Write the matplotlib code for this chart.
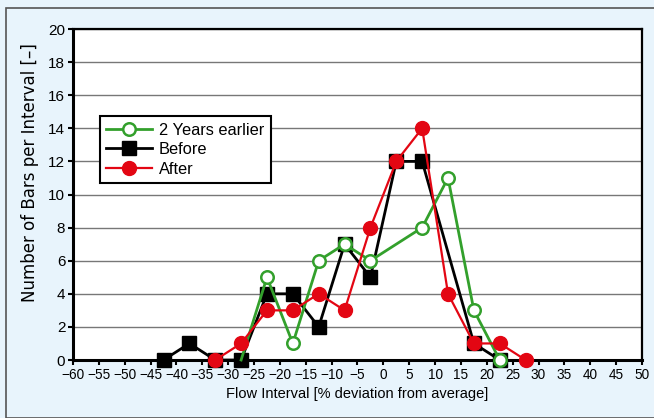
import matplotlib.pyplot as plt
from matplotlib.patches import Rectangle

# interval midpoints [% deviation]
x_earlier = [-27.5, -22.5, -17.5, -12.5, -7.5, -2.5, 7.5, 12.5, 17.5, 22.5]
y_earlier = [0, 5, 1, 6, 7, 6, 8, 11, 3, 0]

x_before = [-42.5, -37.5, -32.5, -27.5, -22.5, -17.5, -12.5, -7.5, -2.5, 2.5, 7.5, 17.5, 22.5]
y_before = [0, 1, 0, 0, 4, 4, 2, 7, 5, 12, 12, 1, 0]

x_after = [-32.5, -27.5, -22.5, -17.5, -12.5, -7.5, -2.5, 2.5, 7.5, 12.5, 17.5, 22.5, 27.5]
y_after = [0, 1, 3, 3, 4, 3, 8, 12, 14, 4, 1, 1, 0]

x_ticks = list(range(-60, 51, 5))
y_ticks = list(range(0, 21, 2))

plt.rcParams['font.family'] = ['Liberation Sans', 'DejaVu Sans']

bg = "#e8f4fc"
fig = plt.figure(figsize=(6.54, 4.18), dpi=100, facecolor=bg)
# outer frame
fig.patches.append(Rectangle((6 / 654, 0.5 / 418), 1, 1 - 8.5 / 418,
                             transform=fig.transFigure, fill=False,
                             edgecolor="#555555", linewidth=1.2))
ax = fig.add_axes([73 / 654, 1 - 360 / 418, 569 / 654, 331 / 418])
ax.set_facecolor("white")

ax.plot(x_before, y_before, color="black", lw=2, marker="s", ms=10,
        mfc="black", mec="black", label="Before", zorder=3, clip_on=False)
ax.plot(x_earlier, y_earlier, color="#33a02c", lw=2, marker="o", ms=9,
        mfc="white", mec="#33a02c", mew=1.8, markevery=list(range(1, len(x_earlier))),
        label="2 Years earlier", zorder=4, clip_on=False)
ax.plot(x_after, y_after, color="#e30613", lw=1.6, marker="o", ms=10,
        mfc="#e30613", mec="#e30613", label="After", zorder=5, clip_on=False)

ax.set_xlim(-60, 50)
ax.set_ylim(0, 20)
ax.set_xticks(x_ticks)
ax.set_xticklabels([str(v).replace("-", "\u2212") for v in x_ticks])
ax.set_yticks(y_ticks)
ax.tick_params(axis="both", direction="out", length=3.5, width=1.5, pad=2)
ax.tick_params(axis="y", labelsize=11)
ax.tick_params(axis="x", labelsize=9.8)
ax.grid(axis="y", color="#777777", lw=1)
ax.set_axisbelow(True)
for s in ax.spines.values():
    s.set_linewidth(1.6)
ax.spines["left"].set_linewidth(2.2)
ax.spines["bottom"].set_linewidth(2.2)

ax.set_xlabel("Flow Interval [% deviation from average]", fontsize=10.5, labelpad=4)
ax.set_ylabel("Number of Bars per Interval [\u2013]", fontsize=12,
              family=["DejaVu Sans"])
ax.yaxis.set_label_coords(-0.059, 0.566)

h, l = ax.get_legend_handles_labels()
order = [1, 0, 2]
leg = ax.legend([h[i] for i in order], [l[i] for i in order],
                loc="upper left", bbox_to_anchor=(0.047, 0.737), fontsize=11.8,
                frameon=True, fancybox=False, edgecolor="black", framealpha=1,
                borderpad=0.4, labelspacing=0.28, handlelength=2.8, handletextpad=0.4,
                borderaxespad=0)
leg.get_frame().set_linewidth(1.5)

fig.savefig("out.png", dpi=100, facecolor=bg)
